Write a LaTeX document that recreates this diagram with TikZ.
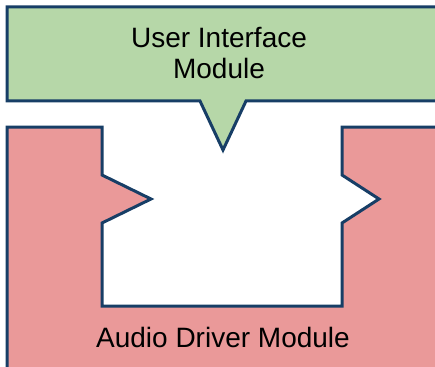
\documentclass[tikz,border=0pt]{standalone}
\usepackage{fontspec}
\setmainfont{Liberation Sans}
\usetikzlibrary{positioning}

\definecolor{uigreen}{HTML}{B6D7A8}
\definecolor{drvred}{HTML}{EA9999}
\definecolor{edgeblue}{RGB}{23,62,102}

\begin{document}
\begin{tikzpicture}[
    x=1pt, y=-1pt,
    module/.style={draw=edgeblue, line width=3pt, line join=miter},
    caption/.style={font=\fontsize{28}{31}\selectfont, align=center, inner sep=0pt}
]
\useasboundingbox (0,0) rectangle (435,366);
\clip (0,0) rectangle (435,366);

% user interface block with its plug
\draw[module, fill=uigreen] (7,7) -- (445,7) -- (445,101) -- (246,101)
    -- (223,150) -- (200,101) -- (7,101) -- cycle;

% audio driver block with the socket
\draw[module, fill=drvred] (7,127) -- (102,127) -- (102,175) -- (151,199)
    -- (102,223) -- (102,306) -- (342,306) -- (342,223) -- (379,199)
    -- (342,175) -- (342,127) -- (445,127) -- (445,375) -- (7,375) -- cycle;

\node[caption] (ui) at (219,53) {User Interface\\Module};
\node[caption, anchor=base] (driver) at (223,347) {Audio Driver Module};
\end{tikzpicture}
\end{document}
